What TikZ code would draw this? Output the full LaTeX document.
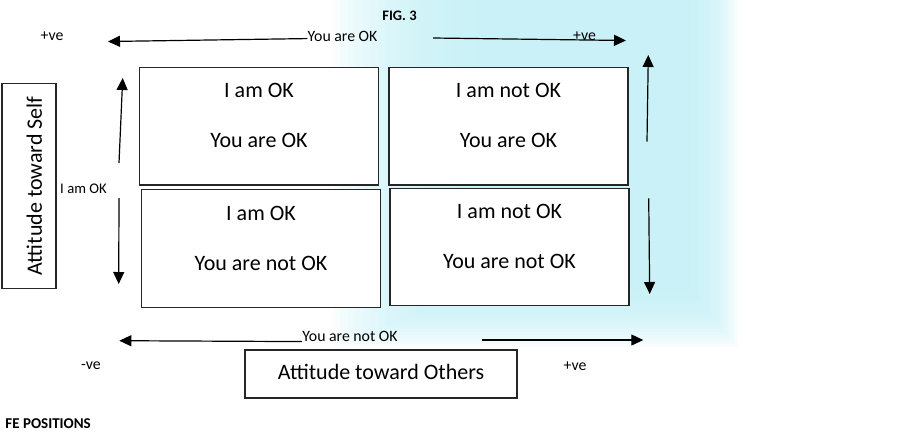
\documentclass[tikz,border=0pt]{standalone}
\usepackage{fontspec}
\setmainfont{Carlito}
\usetikzlibrary{arrows.meta,positioning}
\definecolor{bgcyan}{RGB}{196,240,246}
\begin{document}
\begin{tikzpicture}[x=1pt,y=-1pt,
    quad/.style={draw=black!85, line width=1.2pt, fill=white, minimum width=239pt, minimum height=117.5pt, inner sep=0pt},
    qtext/.style={font=\fontsize{22}{26}\selectfont, inner sep=0pt},
    lbl/.style={font=\fontsize{15.8}{19}\selectfont, inner sep=0pt},
    axisarrow/.style={line width=1.2pt, -{Triangle[length=12pt,width=11pt]}}]
        \useasboundingbox (0,0) rectangle (920,432);
        % faint cyan smear behind the grid
        \foreach \i in {0,...,19}
            \fill[bgcyan, opacity=0.11] ({475-7.5*\i},0) rectangle ({690+2.5*\i},{290+3*\i});
        % title and top axis
        \node[font=\bfseries\fontsize{14.5}{17}\selectfont, inner sep=0pt] (fig) at (399.5,16) {FIG. 3};
        \node[lbl] (youok) at (342.5,36) {You are OK};
        \node[lbl] (posl) at (52,36.5) {+ve};
        \node[lbl] (posr) at (584.5,36) {+ve};
        \coordinate (topl) at (108,41.5);
        \coordinate (topr0) at (433,38);
        \coordinate (topr) at (626,40.5);
        \draw[axisarrow] ([yshift=2.5pt]youok.base west) -- (topl);
        \draw[axisarrow] (topr0) -- (topr);
        % the four quadrants
        \node[quad] (qa) at (259,126.2) {};
        \node[quad] (qb) at (508.5,126.2) {};
        \node[quad] (qc) at (261,248.5) {};
        \node[quad] (qd) at (509.5,247) {};
        \foreach \q/\me/\you in {qa/I am OK/You are OK, qb/I am not OK/You are OK,
            qc/I am OK/You are not OK, qd/I am not OK/You are not OK}
            \path (\q.center) ++(0,-35.5) node[qtext] {\me} ++(0,50.2) node[qtext] {\you};
        % left axis
        \node[draw=black!85, line width=1.2pt, rotate=90, minimum width=205pt, minimum height=54pt,
            inner sep=0pt, text height=26pt, font=\fontsize{22}{26}\selectfont] (selfbox) at (29,185.8) {Attitude toward Self};
        \node[lbl, font=\fontsize{14.7}{17}\selectfont] (iamok) at (83.5,189) {I am OK};
        \coordinate (lu0) at (119,163);
        \coordinate (lu) at (122.7,78);
        \coordinate (ld0) at (119,198);
        \coordinate (ld) at (118.7,284);
        \draw[axisarrow] (lu0) -- (lu);
        \draw[axisarrow] (ld0) -- (ld);
        % right axis
        \coordinate (ru0) at (647,141.5);
        \coordinate (ru) at (648.3,55);
        \coordinate (rd0) at (648.7,198.3);
        \coordinate (rd) at (649.7,294);
        \draw[axisarrow] (ru0) -- (ru);
        \draw[axisarrow] (rd0) -- (rd);
        % bottom axis
        \node[lbl] (younot) at (350,336) {You are not OK};
        \node[lbl] (negl) at (91,366) {-ve};
        \node[lbl] (posb) at (575,366) {+ve};
        \coordinate (botl) at (119.3,340.7);
        \coordinate (botr0) at (481.7,340);
        \coordinate (botr) at (643.3,340);
        \draw[axisarrow] ([yshift=-0.5pt]younot.base west) -- (botl);
        \draw[axisarrow] (botr0) -- (botr);
        \node[draw=black!85, line width=1.2pt, fill=white, minimum width=272pt, minimum height=48pt,
            inner sep=0pt, text depth=5pt, font=\fontsize{22}{26}\selectfont] (otherbox) at (381,374) {Attitude toward Others};
        \node[anchor=east, font=\bfseries\fontsize{15}{18}\selectfont, inner sep=0pt] (fepos) at (91,424) {FE POSITIONS};
\end{tikzpicture}
\end{document}
